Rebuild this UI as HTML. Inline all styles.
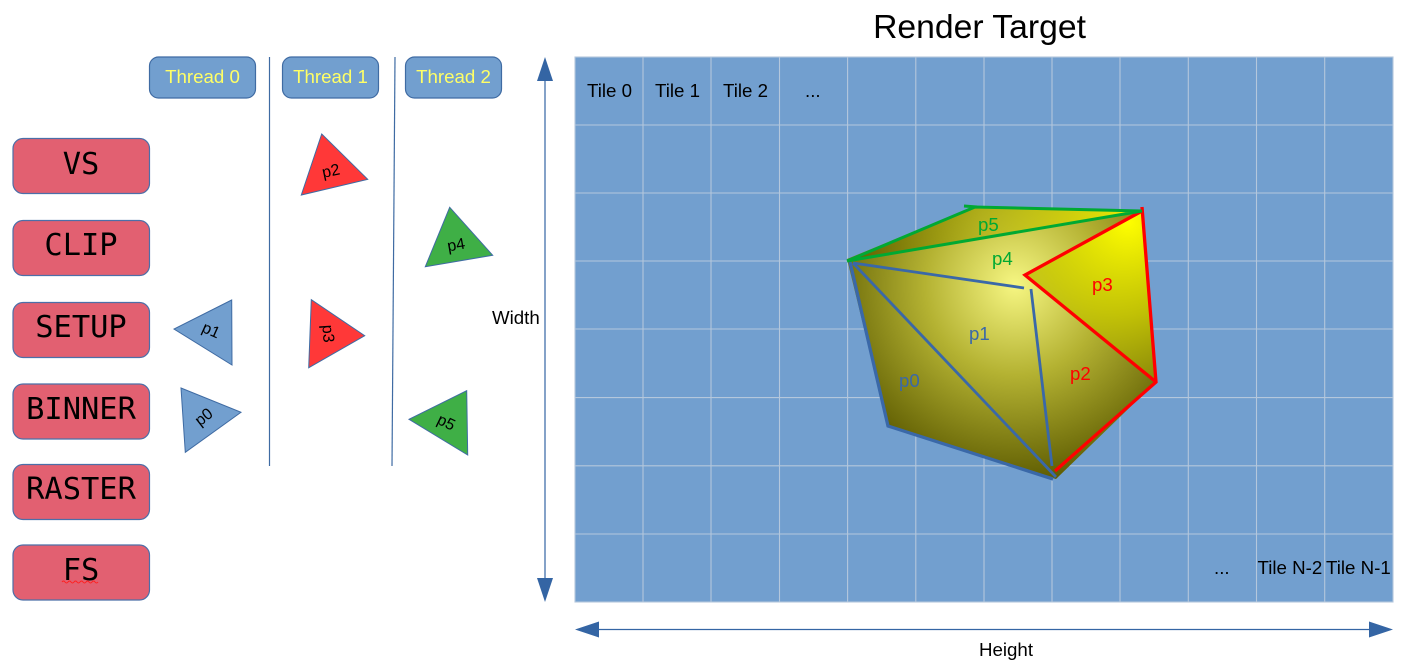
<!DOCTYPE html>
<html>
<head>
<meta charset="utf-8">
<style>
html,body{margin:0;padding:0;background:#fff;width:1410px;height:664px;overflow:hidden}
svg{display:block}
text{font-family:"Liberation Sans",sans-serif}
.m{font-family:"DejaVu Sans Mono",monospace;font-size:30.4px;fill:#000;text-anchor:middle}
.b{fill:#e26071;stroke:#4c6fa8;stroke-width:1.2}
.t{fill:#729fcf;stroke:#3f6ba3;stroke-width:1.2}
.h{font-size:18.7px;fill:#ffff66;text-anchor:middle}
.l{font-size:18.7px;fill:#000}
.s{font-size:16px;fill:#000;text-anchor:middle}
</style>
</head>
<body>
<svg width="1410" height="664" viewBox="0 0 1410 664" xmlns="http://www.w3.org/2000/svg">
<defs>
<radialGradient id="g1" gradientUnits="userSpaceOnUse" cx="1015" cy="285" r="200">
<stop offset="0" stop-color="#f6f682"/>
<stop offset="0.45" stop-color="#b4b232"/>
<stop offset="1" stop-color="#5c5a00"/>
</radialGradient>
<radialGradient id="g2" gradientUnits="userSpaceOnUse" cx="1128" cy="222" r="185">
<stop offset="0" stop-color="#ffff00" stop-opacity="1"/>
<stop offset="0.5" stop-color="#c8c800" stop-opacity=".85"/>
<stop offset="1" stop-color="#8c8c00" stop-opacity=".45"/>
</radialGradient>
<radialGradient id="g3" gradientUnits="userSpaceOnUse" cx="1142" cy="211" r="290">
<stop offset="0" stop-color="#ffff00" stop-opacity=".9"/>
<stop offset="0.55" stop-color="#a8a600" stop-opacity=".55"/>
<stop offset="1" stop-color="#5c5a00" stop-opacity=".8"/>
</radialGradient>
</defs>

<!-- render target -->
<rect x="575" y="57" width="818" height="545" fill="#729fcf"/>
<g stroke="#b4c7dc" stroke-width="1.1" fill="none">
<rect x="575" y="57" width="818" height="545"/>
<path d="M643 57V602M711 57V602M779.5 57V602M847.6 57V602M915.8 57V602M984 57V602M1052 57V602M1120 57V602M1188.3 57V602M1256.5 57V602M1324.7 57V602"/>
<path d="M575 125H1393M575 193H1393M575 261H1393M575 329H1393M575 397.6H1393M575 465.8H1393M575 534H1393"/>
</g>

<text x="979.5" y="38" font-size="33.7" text-anchor="middle" fill="#000">Render Target</text>

<text class="l" x="587" y="97">Tile 0</text>
<text class="l" x="655" y="97">Tile 1</text>
<text class="l" x="723" y="97">Tile 2</text>
<text class="l" x="805" y="97">...</text>
<text class="l" x="1214" y="574">...</text>
<text class="l" x="1257.500" y="574">Tile N-2</text>
<text class="l" x="1326" y="574">Tile N-1</text>

<!-- shaded shape -->
<polygon points="847,259 975,206 1142,211 1156,382 1056,479 888,427" fill="url(#g1)"/>
<polygon points="847,260 975,206 1142,211" fill="url(#g3)"/>
<polygon points="1025,275 1142,211 1156,382" fill="url(#g2)"/>

<g fill="none" stroke="#3a68a8" stroke-width="3">
<path d="M850 262L888 426L1053 479" stroke-width="3.300"/>
<path d="M853 263L1056 477" stroke-width="2.800"/>
<path d="M853 263L1024 288" stroke-width="2.800"/>
<path d="M1031 289L1052 466" stroke-width="2.800"/>
</g>
<g fill="none" stroke="#ff0000" stroke-width="3.300">
<path d="M1142 207L1156 382L1055 471"/>
<path d="M1142 211L1025 275L1156 382"/>
</g>
<g fill="none" stroke="#00a933" stroke-width="3">
<path d="M847 261L975 207L1142 211L847 261"/>
<path d="M964 206L977 207"/>
</g>

<text x="899" y="387" font-size="18.7" fill="#3a68a8">p0</text>
<text x="969" y="340" font-size="18.7" fill="#3a68a8">p1</text>
<text x="1070" y="380" font-size="18.7" fill="#ff0000">p2</text>
<text x="1092" y="291" font-size="18.7" fill="#ff0000">p3</text>
<text x="992" y="265" font-size="18.7" fill="#00a933">p4</text>
<text x="978" y="231" font-size="18.7" fill="#00a933">p5</text>

<!-- pipeline -->
<rect class="b" x="13" y="138.500" width="136.500" height="55" rx="10"/>
<rect class="b" x="13" y="220.500" width="136.500" height="55" rx="10"/>
<rect class="b" x="13" y="302.500" width="136.500" height="55" rx="10"/>
<rect class="b" x="13" y="384" width="136.500" height="55" rx="10"/>
<rect class="b" x="13" y="464.500" width="136.500" height="55" rx="10"/>
<rect class="b" x="13" y="545" width="136.500" height="55" rx="10"/>
<text class="m" x="81" y="174">VS</text>
<text class="m" x="81" y="255">CLIP</text>
<text class="m" x="81" y="337">SETUP</text>
<text class="m" x="81" y="419">BINNER</text>
<text class="m" x="81" y="499">RASTER</text>
<text class="m" x="81" y="580">FS</text>
<path d="M62 582q1.500 -2 3 0t3 0t3 0t3 0t3 0t3 0t3 0t3 0t3 0t3 0t3 0t3 0" fill="none" stroke="#ff2020" stroke-width="1"/>

<!-- thread headers -->
<rect class="t" x="149.500" y="57" width="106" height="41" rx="9"/>
<rect class="t" x="282.500" y="57" width="96" height="41" rx="9"/>
<rect class="t" x="405.500" y="57" width="96" height="41" rx="9"/>
<text class="h" x="202.500" y="83">Thread 0</text>
<text class="h" x="330.500" y="83">Thread 1</text>
<text class="h" x="453.500" y="83">Thread 2</text>

<!-- dividers -->
<path d="M269.500 57V466" stroke="#3f6ba3" stroke-width="1.2" fill="none"/>
<path d="M395 57L392 466" stroke="#3f6ba3" stroke-width="1.2" fill="none"/>

<!-- triangles -->
<g stroke="#3f6ba3" stroke-width="1">
<polygon points="231.700,300 174,329 232,365" fill="#729fcf"/>
<polygon points="181,388 241,412.300 185.300,452.300" fill="#729fcf"/>
<polygon points="321.700,134 367.700,179.300 301.300,195" fill="#ff3838"/>
<polygon points="311.300,299.700 364.700,335.700 308.700,367.700" fill="#ff3838"/>
<polygon points="449.700,207.300 492.700,255.300 425.300,266.700" fill="#3faf46"/>
<polygon points="466.700,390.700 467.700,455 409,419.300" fill="#3faf46"/>
</g>
<text class="s" transform="translate(209,335) rotate(24)">p1</text>
<text class="s" transform="translate(207,421) rotate(-38)">p0</text>
<text class="s" transform="translate(332,176) rotate(-12)">p2</text>
<text class="s" transform="translate(323,334) rotate(86)">p3</text>
<text class="s" transform="translate(457,250) rotate(-10)">p4</text>
<text class="s" transform="translate(444,427) rotate(26)">p5</text>

<!-- width arrow -->
<path d="M545 78V582" stroke="#3465a4" stroke-width="1.2" fill="none"/>
<polygon points="545,57 537,81 553,81" fill="#3465a4"/>
<polygon points="545,602 537,578 553,578" fill="#3465a4"/>
<text class="l" x="492" y="324">Width</text>

<!-- height arrow -->
<path d="M597 629.500H1371" stroke="#3465a4" stroke-width="1.2" fill="none"/>
<polygon points="575,629.500 599,621.500 599,637.500" fill="#3465a4"/>
<polygon points="1393,629.500 1369,621.500 1369,637.500" fill="#3465a4"/>
<text class="l" x="979" y="656">Height</text>
</svg>
</body>
</html>
